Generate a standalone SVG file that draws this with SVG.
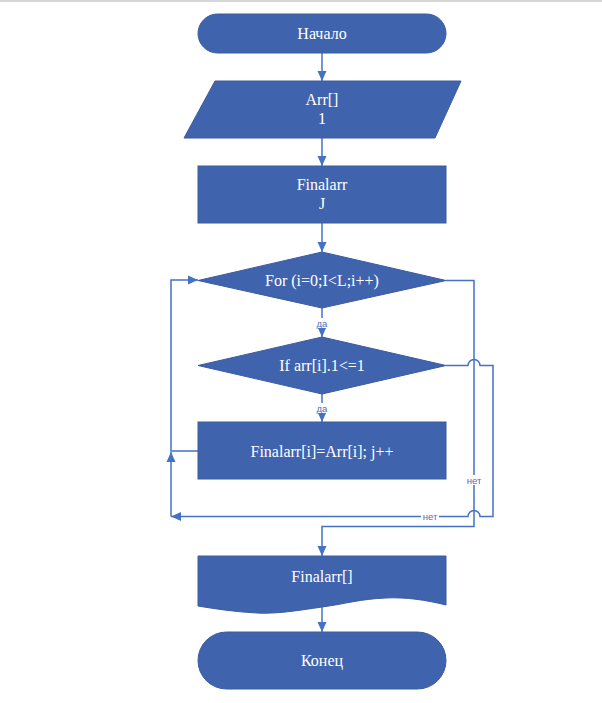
<svg xmlns="http://www.w3.org/2000/svg" width="602" height="703" viewBox="0 0 602 703">
<style>
.n{fill:#4063AD;stroke:#3A5C9F;stroke-width:1}
.t{font-family:"Liberation Serif","Times New Roman",serif;font-size:16px;fill:#ffffff;text-anchor:middle}
.c{fill:none;stroke:#4472C4;stroke-width:1.5}
.l{font-family:"Liberation Sans",Arial,sans-serif;font-size:9.5px;fill:#4472C4;text-anchor:middle}
</style>
<defs>
<marker id="a" markerUnits="userSpaceOnUse" markerWidth="10" markerHeight="10" viewBox="0 0 10 10" refX="10" refY="5" orient="auto">
<path d="M0,0.5 L10,5 L0,9.5 Z" fill="#4472C4"/>
</marker>
</defs>
<rect width="602" height="703" fill="#ffffff"/>
<line x1="0" y1="1" x2="602" y2="1" stroke="#c8c8c8" stroke-width="1.5"/>
<g id="connectors">
<path class="c" d="M322,53 V81" marker-end="url(#a)"/>
<path class="c" d="M322,138 V166" marker-end="url(#a)"/>
<path class="c" d="M322,223 V252" marker-end="url(#a)"/>
<path class="c" d="M322,308 V337" marker-end="url(#a)"/>
<path class="c" d="M322,394 V422" marker-end="url(#a)"/>
<path class="c" d="M198,451 H171 V280 H198" marker-end="url(#a)"/>
<path class="c" d="M171,516.5 V452" marker-end="url(#a)"/>
<path class="c" d="M446,365.5 H468 A6,6 0 0 1 480,365.5 H493 V516.5 H480 A6,6 0 0 0 468,516.5 H171" marker-end="url(#a)"/>
<path class="c" d="M446,280.5 H474 V526.5 H322 V556" marker-end="url(#a)"/>
<path class="c" d="M322,606 V632" marker-end="url(#a)"/>
<rect x="313" y="318" width="18" height="10" fill="#ffffff"/>
<text class="l" x="322" y="326.5">да</text>
<rect x="313" y="403" width="18" height="10" fill="#ffffff"/>
<text class="l" x="322" y="411.5">да</text>
<rect x="465" y="475" width="18" height="10" fill="#ffffff"/>
<text class="l" x="474" y="483.5">нет</text>
<rect x="421" y="511" width="18" height="10" fill="#ffffff"/>
<text class="l" x="430" y="519.5">нет</text>
</g>
<g id="start">
<rect class="n" x="198" y="14" width="248" height="39" rx="19.5"/>
<text class="t" x="322" y="38.5">Начало</text>
</g>
<g id="input">
<path class="n" d="M215,81 H461 L435,138 H184 Z"/>
<text class="t" x="322" y="105">Arr[]</text>
<text class="t" x="322" y="124">1</text>
</g>
<g id="init">
<rect class="n" x="198" y="166" width="248" height="57"/>
<text class="t" x="322" y="190">Finalarr</text>
<text class="t" x="322" y="209">J</text>
</g>
<g id="loop">
<path class="n" d="M322,252 L446,280.5 L322,308 L198,280.5 Z"/>
<text class="t" x="322" y="286">For (i=0;I&lt;L;i++)</text>
</g>
<g id="cond">
<path class="n" d="M322,337 L446,365.5 L322,394 L198,365.5 Z"/>
<text class="t" x="322" y="371">If arr[i].1&lt;=1</text>
</g>
<g id="assign">
<rect class="n" x="198" y="422" width="248" height="57"/>
<text class="t" x="322" y="456.5">Finalarr[i]=Arr[i]; j++</text>
</g>
<g id="output">
<path class="n" d="M198,556 H446 V605 C426,600 406,597 386,598 C360,599 345,604 322,607 C295,611 276,614 257,613 C236,612 216,609 198,606 Z"/>
<text class="t" x="322" y="582">Finalarr[]</text>
</g>
<g id="end">
<rect class="n" x="198" y="632" width="248" height="57" rx="28.5"/>
<text class="t" x="322" y="666">Конец</text>
</g>
</svg>
